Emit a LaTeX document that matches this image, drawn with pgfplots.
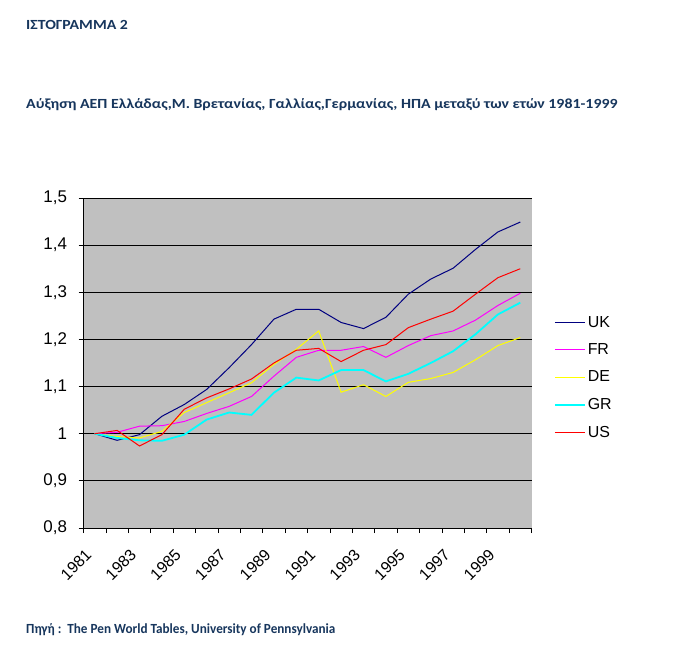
\documentclass[border=0pt]{standalone}
\usepackage{pgfplots}
\pgfplotsset{compat=1.18}
\usepackage{fontspec}
\setmainfont{Liberation Sans}
\newfontfamily\calib{Carlito}
\definecolor{titleblue}{RGB}{23,54,93}
\definecolor{plotgray}{RGB}{192,192,192}
\definecolor{uknavy}{RGB}{0,0,128}
\definecolor{frmag}{RGB}{255,0,255}
\definecolor{deyel}{RGB}{255,255,0}
\definecolor{grcyan}{RGB}{0,255,255}
\definecolor{usred}{RGB}{255,0,0}
\pgfplotsset{legend image code/.code={\draw[#1] (0bp,0bp) -- (30bp,0bp);}}
\begin{document}
\begin{tikzpicture}
\fill[white] (0,0) rectangle (689bp,-659bp);
\path[use as bounding box] (0,0) rectangle (689bp,-659bp);
\node[anchor=west, inner sep=0pt, text=titleblue, font=\calib\bfseries\fontsize{14}{16}\selectfont] at (26bp,-24.5bp) {\scalebox{1.13}[1]{ΙΣΤΟΓΡΑΜΜΑ 2}};
\node[anchor=west, inner sep=0pt, text=titleblue, font=\calib\bfseries\fontsize{14}{16}\selectfont] at (26bp,-105bp) {\scalebox{1.138}[1]{Αύξηση ΑΕΠ Ελλάδας,Μ. Βρετανίας, Γαλλίας,Γερμανίας, ΗΠΑ μεταξύ των ετών 1981-1999}};
\node[anchor=west, inner sep=0pt, text=titleblue, font=\calib\bfseries\fontsize{14}{16}\selectfont] at (26bp,-630bp) {\scalebox{0.945}[1]{Πηγή :\ \ The Pen World Tables, University of Pennsylvania}};
\begin{axis}[
  at={(83.5bp,-528bp)}, anchor=south west,
  scale only axis, width=448bp, height=330bp,
  xmin=1980.5, xmax=2000.5, ymin=0.8, ymax=1.5,
  axis x line*=bottom, axis y line*=left,
  axis line style={-, black, line width=0.8bp},
  axis background/.style={fill=plotgray},
  tick align=outside, major tick length=5bp, minor tick length=5bp,
  tick style={black, line width=0.8bp},
  xtick={1980.5,1982.5,...,1998.5},
  xticklabels={1981,1983,1985,1987,1989,1991,1993,1995,1997,1999},
  minor xtick={1981.5,1983.5,...,1999.5,2000.5},
  xticklabel style={yshift=-15bp, xshift=1bp, rotate=45, anchor=north east, inner sep=0pt, font=\fontsize{16}{18}\selectfont},
  ytick={0.8,0.9,1,1.1,1.2,1.3,1.4,1.5},
  yticklabel style={xshift=-8bp, font=\fontsize{17}{19}\selectfont, /pgf/number format/.cd, use comma, fixed, precision=1},
  /pgf/number format/assume math mode=true,
  ymajorgrids, grid style={black, line width=0.8bp},
  legend style={at={(rel axis cs:1.043,0.655)}, anchor=north west, draw=none, fill=none,
    font=\fontsize{16}{18}\selectfont, row sep=11bp},
  legend cell align=left,
]
\addplot[uknavy, line width=1bp] coordinates {
(1981,1.000) (1982,0.986) (1983,0.998) (1984,1.037) (1985,1.062) (1986,1.094) (1987,1.140) (1988,1.189) (1989,1.243) (1990,1.264)
(1991,1.264) (1992,1.236) (1993,1.223) (1994,1.247) (1995,1.296) (1996,1.328) (1997,1.351) (1998,1.391) (1999,1.428) (2000,1.449)};
\addlegendentry{UK}
\addplot[frmag, line width=1bp] coordinates {
(1981,1.000) (1982,1.003) (1983,1.016) (1984,1.017) (1985,1.026) (1986,1.043) (1987,1.058) (1988,1.079) (1989,1.122) (1990,1.162)
(1991,1.177) (1992,1.177) (1993,1.185) (1994,1.162) (1995,1.187) (1996,1.208) (1997,1.218) (1998,1.241) (1999,1.272) (2000,1.298)};
\addlegendentry{FR}
\addplot[deyel, line width=1bp] coordinates {
(1981,1.000) (1982,0.994) (1983,0.991) (1984,1.005) (1985,1.045) (1986,1.066) (1987,1.087) (1988,1.108) (1989,1.147) (1990,1.179)
(1991,1.218) (1992,1.088) (1993,1.104) (1994,1.079) (1995,1.109) (1996,1.117) (1997,1.130) (1998,1.157) (1999,1.187) (2000,1.204)};
\addlegendentry{DE}
\addplot[grcyan, line width=1.8bp] coordinates {
(1981,1.000) (1982,0.991) (1983,0.986) (1984,0.985) (1985,0.998) (1986,1.030) (1987,1.045) (1988,1.040) (1989,1.087) (1990,1.119)
(1991,1.113) (1992,1.135) (1993,1.135) (1994,1.111) (1995,1.127) (1996,1.150) (1997,1.175) (1998,1.211) (1999,1.253) (2000,1.278)};
\addlegendentry{GR}
\addplot[usred, line width=1bp] coordinates {
(1981,1.000) (1982,1.007) (1983,0.974) (1984,0.998) (1985,1.052) (1986,1.076) (1987,1.095) (1988,1.116) (1989,1.150) (1990,1.177)
(1991,1.181) (1992,1.153) (1993,1.177) (1994,1.189) (1995,1.225) (1996,1.243) (1997,1.260) (1998,1.296) (1999,1.331) (2000,1.350)};
\addlegendentry{US}
\end{axis}
\end{tikzpicture}
\end{document}
